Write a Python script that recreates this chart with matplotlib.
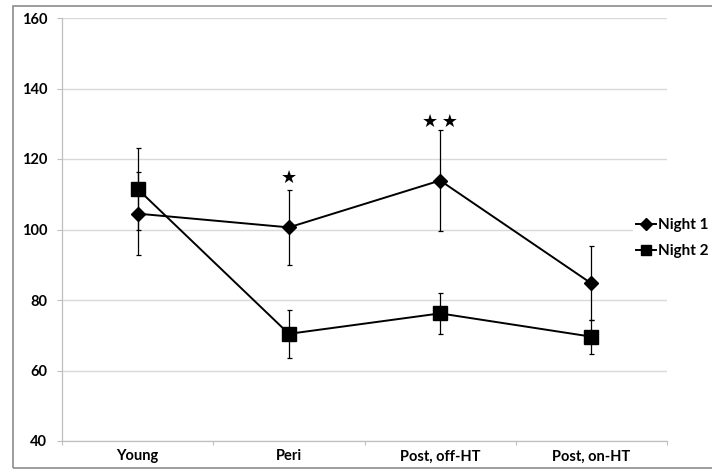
import matplotlib
matplotlib.use("Agg")
import matplotlib.pyplot as plt
from matplotlib.patches import Rectangle

categories = ["Young", "Peri", "Post, off-HT", "Post, on-HT"]
night1 = [104.5, 100.6, 113.9, 84.7]
night1_err = [11.7, 10.6, 14.2, 10.5]
night2 = [111.5, 70.4, 76.2, 69.6]
night2_err = [11.6, 6.8, 5.9, 4.8]
yticks = [40, 60, 80, 100, 120, 140, 160]
stars = [(1, 114.6, "\u2605"), (2, 130.6, "\u2605\u2009\u2605")]

plt.rcParams['font.family'] = ['Lato', 'DejaVu Sans']

W, H = 712, 470
fig = plt.figure(figsize=(W / 100, H / 100), dpi=100)
ax = fig.add_axes([62 / W, 1 - 441 / H, (667 - 62) / W, (441 - 18) / H])

x = list(range(len(categories)))
ax.errorbar(x, night1, yerr=night1_err, fmt='none', ecolor='black',
            elinewidth=0.9, capsize=1.8, capthick=0.9, zorder=3)
ax.errorbar(x, night2, yerr=night2_err, fmt='none', ecolor='black',
            elinewidth=0.9, capsize=1.8, capthick=0.9, zorder=3)
l1, = ax.plot(x, night1, color='black', lw=1.4, marker='D', ms=7.5,
              label='Night 1', zorder=4)
l2, = ax.plot(x, night2, color='black', lw=1.4, marker='s', ms=10,
              label='Night 2', zorder=4)

for xi, yi, s in stars:
    ax.text(xi, yi, s, ha='center', va='center', fontsize=13,
            family='DejaVu Sans', color='black')

ax.set_xlim(-0.5, len(categories) - 0.5)
ax.set_ylim(40, 160)
ax.set_yticks(yticks)
ax.set_xticks(x)
ax.set_xticklabels(categories, fontweight='bold', fontsize=10.5)
for lab in ax.get_yticklabels():
    lab.set_fontweight('bold')
    lab.set_fontsize(10.5)
ax.set_xticks([i - 0.5 for i in range(len(categories) + 1)], minor=True)
ax.tick_params(axis='x', which='major', length=0, pad=6)
ax.tick_params(axis='x', which='minor', length=3, color='#bfbfbf', width=0.8,
               direction='out')
ax.tick_params(axis='y', length=3.6, color='#bfbfbf', width=0.8, pad=7)

ax.grid(axis='y', color='#d9d9d9', lw=1)
ax.set_axisbelow(True)
for s in ['top', 'right']:
    ax.spines[s].set_visible(False)
for s in ['left', 'bottom']:
    ax.spines[s].set_color('#bfbfbf')
    ax.spines[s].set_linewidth(0.9)

leg = fig.legend(handles=[l1, l2], loc='center left',
                 bbox_to_anchor=(633 / W, 1 - 238 / H), frameon=True,
                 fontsize=11, handlelength=1.3, handletextpad=0.12,
                 labelspacing=0.8, markerscale=0.75, borderpad=0.2,
                 borderaxespad=0)
leg.get_frame().set_facecolor('white')
leg.get_frame().set_edgecolor('none')
leg.get_frame().set_alpha(1)
for t in leg.get_texts():
    t.set_fontweight('bold')

border = Rectangle((12.5 / W, 1 - 468 / H), 2.0, (468 - 6) / H,
                   transform=fig.transFigure, fill=False,
                   edgecolor='#8c8c8c', lw=1.2, clip_on=False)
fig.patches.append(border)

fig.savefig("out.png", dpi=100)
